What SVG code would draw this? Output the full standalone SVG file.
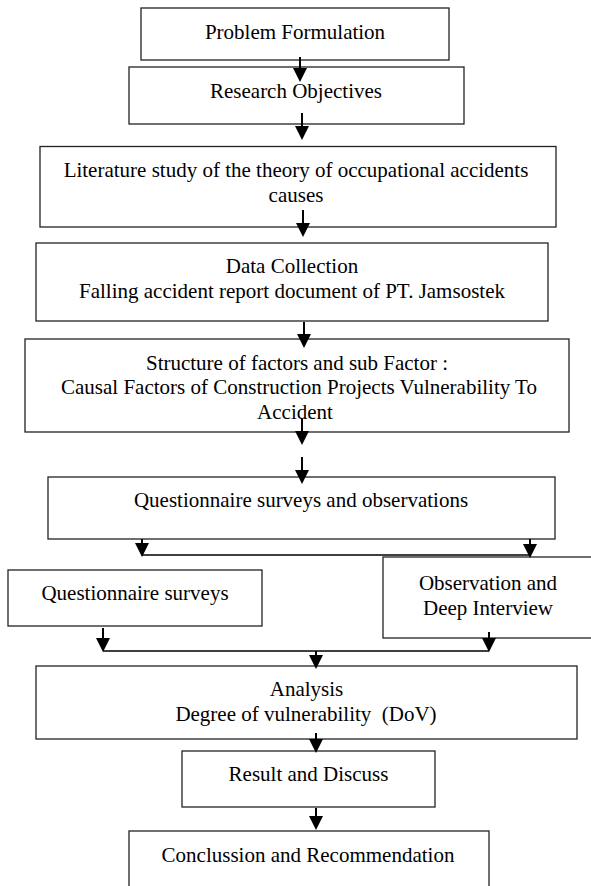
<svg xmlns="http://www.w3.org/2000/svg" width="591" height="886" viewBox="0 0 591 886">
<style>
.box{fill:#fff;stroke:#222;stroke-width:1.3}
.t{font-family:"Liberation Serif","Times New Roman",serif;font-size:21px;fill:#000;text-anchor:middle;white-space:pre}
.c{stroke:#000;stroke-width:2;fill:none}
</style>
<defs>
<marker id="ah" markerUnits="userSpaceOnUse" markerWidth="14" markerHeight="14" refX="10" refY="7" orient="auto"><path d="M0,0 L14,7 L0,14 z" fill="#000"/></marker>
</defs>
<rect width="591" height="886" fill="#fff"/>
<g id="n1"><rect class="box" x="141" y="8" width="308" height="52"/><text class="t" x="295" y="39">Problem Formulation</text></g>
<g id="n2"><rect class="box" x="129" y="67" width="335" height="57"/><text class="t" x="296" y="98">Research Objectives</text></g>
<g id="n3"><rect class="box" x="40" y="146.5" width="516" height="80.5"/><text class="t" x="296" y="177">Literature study of the theory of occupational accidents</text><text class="t" x="296" y="202">causes</text></g>
<g id="n4"><rect class="box" x="36" y="243" width="512" height="78"/><text class="t" x="292" y="273">Data Collection</text><text class="t" x="292" y="298">Falling accident report document of PT. Jamsostek</text></g>
<g id="n5"><rect class="box" x="25" y="339" width="544" height="93"/><text class="t" x="297" y="370">Structure of factors and sub Factor :</text><text class="t" x="299" y="394">Causal Factors of Construction Projects Vulnerability To</text><text class="t" x="295" y="419">Accident</text></g>
<g id="n6"><rect class="box" x="48" y="477" width="507" height="62"/><text class="t" x="301" y="507">Questionnaire surveys and observations</text></g>
<g id="n7"><rect class="box" x="8" y="570" width="254" height="56"/><text class="t" x="135" y="600">Questionnaire surveys</text></g>
<g id="n8"><rect class="box" x="383" y="557" width="212" height="81"/><text class="t" x="488" y="590">Observation and</text><text class="t" x="488" y="615">Deep Interview</text></g>
<g id="n9"><rect class="box" x="36" y="666" width="541" height="73"/><text class="t" x="306.5" y="696">Analysis</text><text class="t" x="306" y="721">Degree of vulnerability  (DoV)</text></g>
<g id="n10"><rect class="box" x="182" y="751" width="253" height="56"/><text class="t" x="308.5" y="781">Result and Discuss</text></g>
<g id="n11"><rect class="box" x="129" y="831" width="360" height="70"/><text class="t" x="308" y="862">Conclussion and Recommendation</text></g>
<g id="connectors">
<path class="c" d="M300,57 V78" marker-end="url(#ah)"/>
<path class="c" d="M302,113 V136" marker-end="url(#ah)"/>
<path class="c" d="M303,210 V233" marker-end="url(#ah)"/>
<path class="c" d="M304,322 V344" marker-end="url(#ah)"/>
<path class="c" d="M302,418 V441" marker-end="url(#ah)"/>
<path class="c" d="M302,457 V480" marker-end="url(#ah)"/>
<path class="c" d="M142,539 V553" marker-end="url(#ah)"/>
<path class="c" d="M530,539 V554" marker-end="url(#ah)"/>
<path class="c" d="M142,555 H530" style="stroke-width:1.5"/>
<path class="c" d="M103,628 V648" marker-end="url(#ah)"/>
<path class="c" d="M489,632 V648" marker-end="url(#ah)"/>
<path class="c" d="M103,651 H489" style="stroke-width:1.5"/>
<path class="c" d="M316,651 V665" marker-end="url(#ah)"/>
<path class="c" d="M316,733 V749" marker-end="url(#ah)"/>
<path class="c" d="M316,808 V826" marker-end="url(#ah)"/>
</g>
</svg>
